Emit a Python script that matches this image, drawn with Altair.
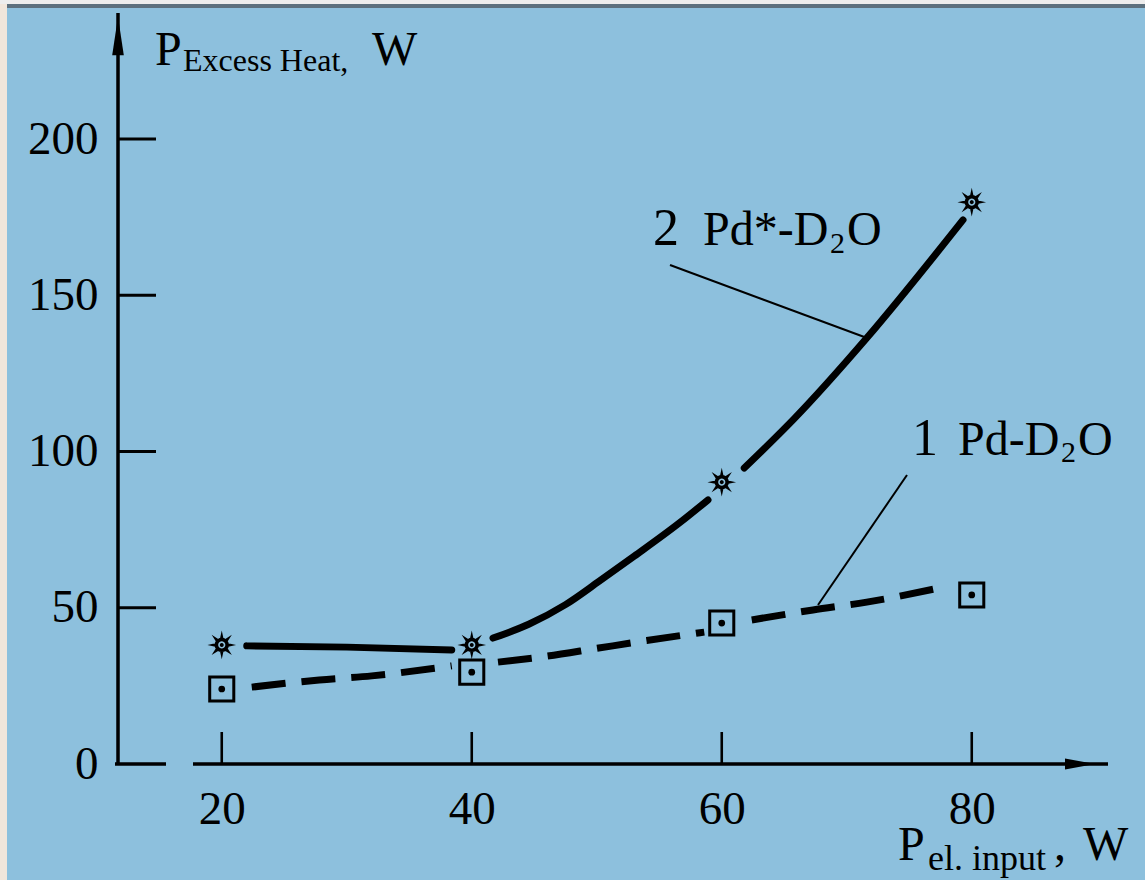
import math
import altair as alt
import pandas as pd

# ---------------- data ----------------
x_input = [20, 40, 60, 80]
star_heat = [38.1, 38.1, 90.2, 179.8]      # curve 2, Pd*-D2O markers
square_heat = [24.0, 29.4, 45.1, 54.1]     # curve 1, Pd-D2O markers

# fitted curves, drawn in pieces that stop short of the markers
curve2_x = [[22.0, 30.0, 38.4],
            [41.7, 44.6, 47.5, 50.2, 53.0, 56.6, 58.9],
            [61.8, 65.8, 71.6, 79.3]]
curve2_y = [[37.8, 37.4, 36.5],
            [40.3, 44.8, 51.0, 58.5, 66.5, 77.1, 84.5],
            [94.7, 110.5, 136.3, 174.1]]
curve1_x = [[22.4, 27.8, 32.0, 38.4],
            [42.1, 46.0, 50.0, 54.0, 58.6],
            [62.4, 67.3, 71.6, 77.7]]
curve1_y = [[24.6, 26.9, 28.2, 31.4],
            [32.6, 34.5, 37.0, 39.5, 42.2],
            [46.1, 49.3, 51.8, 56.6]]

y_ticks = [0, 50, 100, 150, 200]
x_ticks = [20, 40, 60, 80]

label_curve2 = ["2", "Pd*-D", "2", "O"]
label_curve1 = ["1", "Pd-D", "2", "O"]
y_title = ["P", "Excess Heat,", "W"]
x_title = ["P", "el. input", ",", "W"]

# ---------------- styling ----------------
FONT = "Liberation Serif"
BG = "#8DC0DD"
W, H = 987.5, 750

xs = alt.Scale(domain=[11.7, 90.7], nice=False, zero=False)
ys = alt.Scale(domain=[0, 240], nice=False, zero=False)
x_axis = alt.Axis(values=x_ticks, title=None, domain=False, ticks=False, tickSize=0,
                  grid=False, labelFont=FONT, labelFontSize=47, labelColor="black",
                  labelPadding=22, labelFlush=False, labelOverlap=False)
y_axis = alt.Axis(values=y_ticks, title=None, domain=False, ticks=False, tickSize=0,
                  grid=False, labelFont=FONT, labelFontSize=47, labelColor="black",
                  labelPadding=20, labelFlush=False, labelOverlap=False)


def X(f):
    return alt.X(f"{f}:Q", scale=xs, axis=x_axis)


def Y(f):
    return alt.Y(f"{f}:Q", scale=ys, axis=y_axis)


one = alt.Data(values=[{"a": 1}])


def text(s, x, y, size):
    return alt.Chart(one).mark_text(text=s, align="left", baseline="alphabetic", font=FONT,
                                    fontSize=size, color="black").encode(
        x=alt.value(x), y=alt.value(y))


def rule(x, x2, y, y2, w, color="black"):
    return alt.Chart(one).mark_rule(color=color, strokeWidth=w).encode(
        x=alt.value(x), x2=alt.value(x2), y=alt.value(y), y2=alt.value(y2))


def poly(r, n, rev=False):
    angs = [2 * math.pi * k / n for k in range(n)]
    if rev:
        angs = angs[::-1]
    pts = [f"{r * math.cos(a):.3f},{r * math.sin(a):.3f}" for a in angs]
    return "M" + " L".join(pts) + " Z"


star_path = poly(0.50, 20) + " " + poly(0.25, 20, rev=True) + " " + poly(0.14, 12)
for k in range(8):
    a = k * math.pi / 4
    d = math.radians(20)
    b1 = (0.40 * math.cos(a - d), 0.40 * math.sin(a - d))
    tip = (math.cos(a), math.sin(a))
    b2 = (0.40 * math.cos(a + d), 0.40 * math.sin(a + d))
    star_path += f" M{b1[0]:.3f},{b1[1]:.3f} L{tip[0]:.3f},{tip[1]:.3f} L{b2[0]:.3f},{b2[1]:.3f} Z"

# ---------------- tables ----------------
pts = pd.DataFrame({"x": x_input, "star": star_heat, "square": square_heat})

rows = []
for name, cx, cy in (("c2", curve2_x, curve2_y), ("c1", curve1_x, curve1_y)):
    for s, (xx, yy) in enumerate(zip(cx, cy)):
        for i, (a, b) in enumerate(zip(xx, yy)):
            rows.append({"series": name, "seg": f"{name}-{s}", "i": i, "x": a, "y": b})
curves = pd.DataFrame(rows)

# ---------------- layers ----------------
decor = [
    # page edges of the scanned slide
    alt.Chart(one).mark_rect(color="#F1E6DB").encode(
        x=alt.value(-118), x2=alt.value(-111), y=alt.value(-14), y2=alt.value(880)),
    alt.Chart(one).mark_rect(color="#EDEDED").encode(
        x=alt.value(-118), x2=alt.value(1100), y=alt.value(-14), y2=alt.value(-10)),
    alt.Chart(one).mark_rect(color="#5C707E").encode(
        x=alt.value(-111), x2=alt.value(1100), y=alt.value(-10), y2=alt.value(-6)),
    # axis lines
    rule(0, 0, -1, 750, 3.5),
    rule(75, 990, 750, 750, 3.5),
    rule(-3, 48, 750, 750, 3.5),
    alt.Chart(one).mark_point(shape="M0,-1 L0.3,1 L-0.3,1 Z", filled=True, color="black",
                              size=1500, opacity=1).encode(x=alt.value(0), y=alt.value(22)),
    alt.Chart(one).mark_point(shape="M1,0 L-1,0.36 L-1,-0.36 Z", filled=True, color="black",
                              size=900, opacity=1).encode(x=alt.value(962), y=alt.value(750)),
]

yt = alt.Chart(pd.DataFrame({"v": [t for t in y_ticks if t > 0]})).mark_rule(
    color="black", strokeWidth=3.2).encode(y=Y("v"), x=alt.value(0), x2=alt.value(38))
xt = alt.Chart(pd.DataFrame({"v": x_ticks})).mark_rule(
    color="black", strokeWidth=2.6).encode(x=X("v"), y=alt.value(718), y2=alt.value(750))

base_c = alt.Chart(curves)
line2 = base_c.transform_filter(alt.datum.series == "c2").mark_line(
    color="black", strokeWidth=7, strokeCap="round", interpolate="monotone").encode(
    x=X("x"), y=Y("y"), detail="seg:N", order="i:Q")
line1 = base_c.transform_filter(alt.datum.series == "c1").mark_line(
    color="black", strokeWidth=7, strokeDash=[34, 16], interpolate="monotone").encode(
    x=X("x"), y=Y("y"), detail="seg:N", order="i:Q")

base_p = alt.Chart(pts)
stars = base_p.mark_point(shape=star_path, filled=True, color="black", size=820,
                          opacity=1).encode(x=X("x"), y=Y("star"))
squares = base_p.mark_point(shape="square", filled=False, color="black", strokeWidth=3,
                            size=580, opacity=1).encode(x=X("x"), y=Y("square"))
dots = base_p.mark_point(shape="circle", filled=True, color="black", size=45,
                         opacity=1).encode(x=X("x"), y=Y("square"))

leaders = [rule(552, 749, 251, 324, 2), rule(789, 700, 461, 591, 2)]

texts = [
    text(y_title[0], 37, 51, 48), text(y_title[1], 65, 57, 32), text(y_title[2], 254, 51, 48),
    text(x_title[0], 780, 846, 48), text(x_title[1], 810, 856, 36),
    text(x_title[2], 936, 846, 48), text(x_title[3], 965, 846, 48),
    text(label_curve2[0], 535, 231, 52), text(label_curve2[1], 585, 231, 48),
    text(label_curve2[2], 712, 239, 30), text(label_curve2[3], 729, 231, 48),
    text(label_curve1[0], 794, 441, 52), text(label_curve1[1], 840, 441, 48),
    text(label_curve1[2], 943, 448, 30), text(label_curve1[3], 960, 441, 48),
]

chart = alt.layer(
    *decor, yt, xt, line2, line1, *leaders, stars, squares, dots, *texts
).properties(
    width=W, height=H,
    padding={"left": 118, "top": 14, "right": 39.5, "bottom": 116},
    autosize=alt.AutoSizeParams(type="none"),
    background=BG,
).configure_view(stroke=None)

chart.save("out.html", embed_options={"renderer": "svg", "actions": False})
